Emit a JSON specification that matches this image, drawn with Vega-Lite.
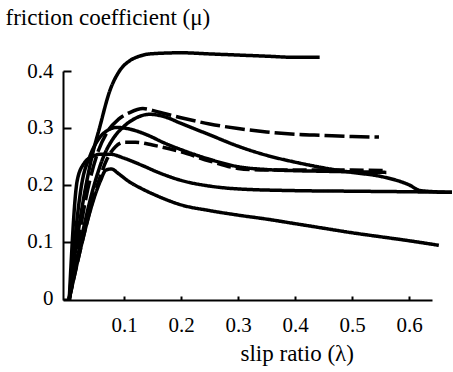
{
  "$schema": "https://vega.github.io/schema/vega-lite/v6.json",
  "width": 369,
  "height": 229,
  "autosize": {"type": "none"},
  "padding": {"left": 63, "top": 71, "right": 21, "bottom": 72},
  "background": "white",
  "config": {
    "view": {"stroke": null},
    "font": "'Liberation Serif', 'Times New Roman', 'DejaVu Serif', serif",
    "axis": {
      "grid": false,
      "domainColor": "black",
      "domainWidth": 2,
      "tickColor": "black",
      "tickWidth": 2,
      "labelFont": "'Liberation Serif', 'Times New Roman', 'DejaVu Serif', serif",
      "labelFontSize": 21,
      "labelColor": "black",
      "titleFont": "'Liberation Serif', 'Times New Roman', 'DejaVu Serif', serif",
      "titleFontSize": 23,
      "titleFontWeight": "normal",
      "titleColor": "black"
    }
  },
  "data": {
    "values": [
      {"curve": "A", "slip": 0.004, "mu": 0},
      {"curve": "A", "slip": 0.02, "mu": 0.12},
      {"curve": "A", "slip": 0.035, "mu": 0.208},
      {"curve": "A", "slip": 0.045, "mu": 0.255},
      {"curve": "A", "slip": 0.057, "mu": 0.3},
      {"curve": "A", "slip": 0.075, "mu": 0.365},
      {"curve": "A", "slip": 0.092, "mu": 0.4},
      {"curve": "A", "slip": 0.11, "mu": 0.418},
      {"curve": "A", "slip": 0.127, "mu": 0.426},
      {"curve": "A", "slip": 0.145, "mu": 0.43},
      {"curve": "A", "slip": 0.2, "mu": 0.432},
      {"curve": "A", "slip": 0.25, "mu": 0.43},
      {"curve": "A", "slip": 0.3, "mu": 0.428},
      {"curve": "A", "slip": 0.35, "mu": 0.426},
      {"curve": "A", "slip": 0.4, "mu": 0.424},
      {"curve": "A", "slip": 0.443, "mu": 0.424},

      {"curve": "B", "slip": 0.004, "mu": 0},
      {"curve": "B", "slip": 0.04, "mu": 0.208},
      {"curve": "B", "slip": 0.055, "mu": 0.26},
      {"curve": "B", "slip": 0.07, "mu": 0.292},
      {"curve": "B", "slip": 0.09, "mu": 0.315},
      {"curve": "B", "slip": 0.11, "mu": 0.327},
      {"curve": "B", "slip": 0.133, "mu": 0.334},
      {"curve": "B", "slip": 0.16, "mu": 0.328},
      {"curve": "B", "slip": 0.2, "mu": 0.318},
      {"curve": "B", "slip": 0.25, "mu": 0.307},
      {"curve": "B", "slip": 0.3, "mu": 0.299},
      {"curve": "B", "slip": 0.35, "mu": 0.293},
      {"curve": "B", "slip": 0.4, "mu": 0.289},
      {"curve": "B", "slip": 0.45, "mu": 0.287},
      {"curve": "B", "slip": 0.5, "mu": 0.285},
      {"curve": "B", "slip": 0.547, "mu": 0.284},

      {"curve": "C", "slip": 0.004, "mu": 0},
      {"curve": "C", "slip": 0.05, "mu": 0.208},
      {"curve": "C", "slip": 0.065, "mu": 0.252},
      {"curve": "C", "slip": 0.08, "mu": 0.28},
      {"curve": "C", "slip": 0.1, "mu": 0.303},
      {"curve": "C", "slip": 0.12, "mu": 0.317},
      {"curve": "C", "slip": 0.145, "mu": 0.324},
      {"curve": "C", "slip": 0.17, "mu": 0.32},
      {"curve": "C", "slip": 0.2, "mu": 0.308},
      {"curve": "C", "slip": 0.25, "mu": 0.288},
      {"curve": "C", "slip": 0.3, "mu": 0.268},
      {"curve": "C", "slip": 0.35, "mu": 0.252},
      {"curve": "C", "slip": 0.4, "mu": 0.24},
      {"curve": "C", "slip": 0.45, "mu": 0.23},
      {"curve": "C", "slip": 0.5, "mu": 0.222},
      {"curve": "C", "slip": 0.55, "mu": 0.215},
      {"curve": "C", "slip": 0.6, "mu": 0.2},
      {"curve": "C", "slip": 0.62, "mu": 0.19},
      {"curve": "C", "slip": 0.675, "mu": 0.187},

      {"curve": "D", "slip": 0.004, "mu": 0},
      {"curve": "D", "slip": 0.027, "mu": 0.208},
      {"curve": "D", "slip": 0.04, "mu": 0.25},
      {"curve": "D", "slip": 0.055, "mu": 0.28},
      {"curve": "D", "slip": 0.07, "mu": 0.295},
      {"curve": "D", "slip": 0.088, "mu": 0.301},
      {"curve": "D", "slip": 0.11, "mu": 0.298},
      {"curve": "D", "slip": 0.14, "mu": 0.288},
      {"curve": "D", "slip": 0.17, "mu": 0.274},
      {"curve": "D", "slip": 0.2, "mu": 0.262},
      {"curve": "D", "slip": 0.25, "mu": 0.245},
      {"curve": "D", "slip": 0.3, "mu": 0.232},
      {"curve": "D", "slip": 0.35, "mu": 0.227},
      {"curve": "D", "slip": 0.4, "mu": 0.225},
      {"curve": "D", "slip": 0.45, "mu": 0.224},
      {"curve": "D", "slip": 0.5, "mu": 0.223},
      {"curve": "D", "slip": 0.56, "mu": 0.222},

      {"curve": "E", "slip": 0.004, "mu": 0},
      {"curve": "E", "slip": 0.056, "mu": 0.208},
      {"curve": "E", "slip": 0.07, "mu": 0.245},
      {"curve": "E", "slip": 0.085, "mu": 0.267},
      {"curve": "E", "slip": 0.1, "mu": 0.275},
      {"curve": "E", "slip": 0.12, "mu": 0.275},
      {"curve": "E", "slip": 0.15, "mu": 0.27},
      {"curve": "E", "slip": 0.2, "mu": 0.258},
      {"curve": "E", "slip": 0.25, "mu": 0.242},
      {"curve": "E", "slip": 0.3, "mu": 0.229},
      {"curve": "E", "slip": 0.35, "mu": 0.226},
      {"curve": "E", "slip": 0.4, "mu": 0.226},
      {"curve": "E", "slip": 0.45, "mu": 0.226},
      {"curve": "E", "slip": 0.5, "mu": 0.226},
      {"curve": "E", "slip": 0.56, "mu": 0.225},

      {"curve": "F", "slip": 0.004, "mu": 0},
      {"curve": "F", "slip": 0.018, "mu": 0.208},
      {"curve": "F", "slip": 0.03, "mu": 0.238},
      {"curve": "F", "slip": 0.045, "mu": 0.25},
      {"curve": "F", "slip": 0.06, "mu": 0.254},
      {"curve": "F", "slip": 0.075, "mu": 0.254},
      {"curve": "F", "slip": 0.1, "mu": 0.247},
      {"curve": "F", "slip": 0.13, "mu": 0.235},
      {"curve": "F", "slip": 0.16, "mu": 0.222},
      {"curve": "F", "slip": 0.2, "mu": 0.208},
      {"curve": "F", "slip": 0.25, "mu": 0.198},
      {"curve": "F", "slip": 0.3, "mu": 0.193},
      {"curve": "F", "slip": 0.4, "mu": 0.19},
      {"curve": "F", "slip": 0.5, "mu": 0.189},
      {"curve": "F", "slip": 0.6, "mu": 0.188},
      {"curve": "F", "slip": 0.675, "mu": 0.187},

      {"curve": "G", "slip": 0.004, "mu": 0},
      {"curve": "G", "slip": 0.059, "mu": 0.208},
      {"curve": "G", "slip": 0.068, "mu": 0.226},
      {"curve": "G", "slip": 0.078, "mu": 0.228},
      {"curve": "G", "slip": 0.09, "mu": 0.22},
      {"curve": "G", "slip": 0.11, "mu": 0.205},
      {"curve": "G", "slip": 0.13, "mu": 0.194},
      {"curve": "G", "slip": 0.16, "mu": 0.18},
      {"curve": "G", "slip": 0.2, "mu": 0.165},
      {"curve": "G", "slip": 0.25, "mu": 0.155},
      {"curve": "G", "slip": 0.3, "mu": 0.147},
      {"curve": "G", "slip": 0.35, "mu": 0.14},
      {"curve": "G", "slip": 0.4, "mu": 0.132},
      {"curve": "G", "slip": 0.45, "mu": 0.124},
      {"curve": "G", "slip": 0.5, "mu": 0.116},
      {"curve": "G", "slip": 0.55, "mu": 0.109},
      {"curve": "G", "slip": 0.6, "mu": 0.102},
      {"curve": "G", "slip": 0.652, "mu": 0.094}
    ]
  },
  "mark": {"type": "line", "color": "black", "strokeWidth": 3.5, "interpolate": "monotone"},
  "encoding": {
    "x": {
      "field": "slip",
      "type": "quantitative",
      "scale": {"domain": [-0.007, 0.64], "nice": false, "zero": false},
      "axis": {
        "values": [0.1, 0.2, 0.3, 0.4, 0.5, 0.6],
        "format": "~g",
        "tickSize": -4,
        "labelPadding": 18,
        "title": "slip ratio (λ)",
        "titleAlign": "left",
        "titleAnchor": "start",
        "titleBaseline": "alphabetic",
        "titleX": 177,
        "titleY": 60
      }
    },
    "y": {
      "field": "mu",
      "type": "quantitative",
      "scale": {"domain": [-0.002, 0.4], "nice": false, "zero": false},
      "axis": {
        "values": [0, 0.1, 0.2, 0.3, 0.4],
        "format": "~g",
        "tickSize": -8,
        "labelPadding": 18,
        "title": "friction coefficient (μ)",
        "titleAngle": 0,
        "titleAlign": "left",
        "titleAnchor": "start",
        "titleBaseline": "alphabetic",
        "titleX": -58,
        "titleY": -47
      }
    },
    "detail": {"field": "curve"},
    "strokeDash": {
      "field": "curve",
      "type": "nominal",
      "scale": {
        "domain": ["A", "B", "C", "D", "E", "F", "G"],
        "range": [[1, 0], [20, 5], [1, 0], [1, 0], [14, 5], [1, 0], [1, 0]]
      },
      "legend": null
    }
  }
}
